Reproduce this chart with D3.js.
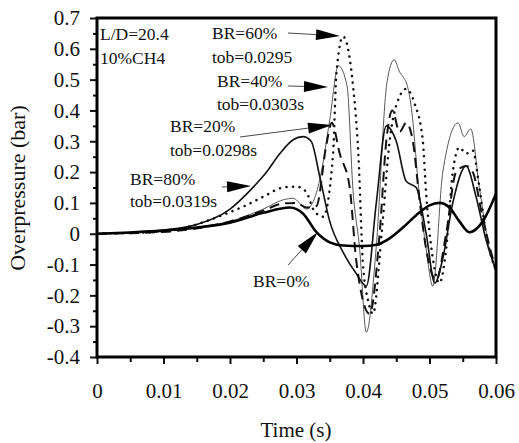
<!DOCTYPE html>
<html>
<head>
<meta charset="utf-8">
<script src="https://cdn.jsdelivr.net/npm/d3@7"></script>
<style>
  body { margin: 0; background: #fff; }
  text { font-family: "Liberation Serif", "Times New Roman", serif; fill: #111; }
</style>
</head>
<body>
<div id="chart"></div>
<script>
// data (time in s, overpressure in bar)
var t0 = [0, 0.005, 0.01, 0.015, 0.02, 0.025, 0.029, 0.031, 0.033, 0.035, 0.037, 0.040, 0.042, 0.044, 0.046, 0.048, 0.050, 0.0515, 0.053, 0.0545, 0.056, 0.058, 0.06];
var p0 = [0, 0.004, 0.01, 0.02, 0.036, 0.068, 0.085, 0.065, 0.005, -0.028, -0.038, -0.04, -0.036, -0.015, 0.02, 0.06, 0.092, 0.1, 0.085, 0.04, 0.005, 0.04, 0.13];

var t20 = [0, 0.01, 0.02, 0.025, 0.028, 0.030, 0.0315, 0.033, 0.0345, 0.0353, 0.0365, 0.038, 0.039, 0.041, 0.0425, 0.0435, 0.0444, 0.0455, 0.0465, 0.0475, 0.0485, 0.0495, 0.051, 0.0525, 0.054, 0.0555, 0.0565, 0.058, 0.06];
var p20 = [0, 0.006, 0.04, 0.075, 0.098, 0.1, 0.085, 0.09, 0.29, 0.36, 0.26, 0.15, -0.09, -0.26, 0.0, 0.3, 0.4, 0.33, 0.36, 0.3, 0.11, -0.05, -0.15, 0.0, 0.2, 0.22, 0.2, 0.05, -0.12];

var t40 = [0, 0.01, 0.02, 0.025, 0.028, 0.0295, 0.0315, 0.0335, 0.035, 0.0363, 0.0376, 0.0385, 0.0395, 0.0405, 0.042, 0.0436, 0.0447, 0.0455, 0.046, 0.0467, 0.0472, 0.0485, 0.0495, 0.0505, 0.052, 0.0543, 0.0552, 0.0562, 0.0575, 0.059, 0.06];
var p40 = [0, 0.008, 0.04, 0.08, 0.11, 0.115, 0.08, 0.175, 0.37, 0.545, 0.48, 0.14, -0.05, -0.32, -0.04, 0.49, 0.565, 0.525, 0.51, 0.477, 0.42, 0.12, -0.05, -0.17, 0.2, 0.36, 0.315, 0.34, 0.15, -0.05, -0.12];

var t60 = [0, 0.01, 0.02, 0.022, 0.025, 0.028, 0.030, 0.0315, 0.0325, 0.034, 0.0355, 0.036, 0.037, 0.0385, 0.0393, 0.04, 0.0408, 0.0415, 0.0428, 0.044, 0.0455, 0.0465, 0.0478, 0.049, 0.0495, 0.0505, 0.0515, 0.0525, 0.0535, 0.0545, 0.0555, 0.0565, 0.0575, 0.0585, 0.06];
var p60 = [0, 0.008, 0.07, 0.088, 0.12, 0.15, 0.153, 0.135, 0.08, 0.055, 0.26, 0.52, 0.64, 0.48, 0.26, -0.1, -0.22, -0.26, 0.0, 0.3, 0.445, 0.47, 0.42, 0.3, 0.13, -0.08, -0.16, -0.05, 0.2, 0.28, 0.26, 0.27, 0.15, 0.0, -0.12];

var t80 = [0, 0.005, 0.01, 0.015, 0.02, 0.023, 0.0255, 0.0275, 0.0295, 0.031, 0.0322, 0.0335, 0.035, 0.037, 0.039, 0.0405, 0.042, 0.0435, 0.045, 0.0465, 0.048, 0.0495, 0.0508, 0.052, 0.0535, 0.0555, 0.057, 0.0585, 0.06];
var p80 = [0, 0.004, 0.012, 0.03, 0.08, 0.14, 0.2, 0.26, 0.305, 0.315, 0.3, 0.185, 0.04, -0.06, -0.13, -0.17, 0.1, 0.35, 0.3, 0.17, 0.15, 0.0, -0.16, -0.08, 0.1, 0.22, 0.12, -0.02, -0.12];

var xTicks = [0, 0.01, 0.02, 0.03, 0.04, 0.05, 0.06];
var yTicks = [-0.4, -0.3, -0.2, -0.1, 0, 0.1, 0.2, 0.3, 0.4, 0.5, 0.6, 0.7];

//svg container dimensions
var svgWidth = 519;
var svgHeight = 443;

var margin = { top: 18, right: 23, bottom: 86, left: 97 };
var chartWidth = svgWidth - margin.left - margin.right;
var chartHeight = svgHeight - margin.top - margin.bottom;

var svg = d3.select("#chart").append("svg")
    .attr("width", svgWidth)
    .attr("height", svgHeight);

var chartGroup = svg.append("g")
    .attr("transform", `translate(${margin.left}, ${margin.top})`);

var xScale = d3.scaleLinear().domain([0, 0.06]).range([0, chartWidth]);
var yScale = d3.scaleLinear().domain([-0.4, 0.7]).range([chartHeight, 0]);

// minor ticks
chartGroup.append("g")
    .attr("transform", `translate(0, ${chartHeight})`)
    .call(d3.axisBottom(xScale).tickValues(d3.range(0.005, 0.06, 0.01)).tickSize(5).tickFormat(""))
    .call(g => g.select(".domain").remove());
chartGroup.append("g")
    .call(d3.axisLeft(yScale).tickValues(d3.range(-0.35, 0.7, 0.1)).tickSize(4).tickFormat(""))
    .call(g => g.select(".domain").remove());

// major axes
var xAxis = d3.axisBottom(xScale).tickValues(xTicks).tickSize(7).tickPadding(19)
    .tickFormat(d => d === 0 ? "0" : d.toFixed(2));
var yAxis = d3.axisLeft(yScale).tickValues(yTicks).tickSize(7).tickPadding(10)
    .tickFormat(d => Math.abs(d) < 1e-9 ? "0" : d.toFixed(1));

chartGroup.append("g")
    .attr("transform", `translate(0, ${chartHeight})`)
    .call(xAxis)
    .call(g => g.select(".domain").remove());
chartGroup.append("g")
    .call(yAxis)
    .call(g => g.select(".domain").remove());

chartGroup.selectAll(".tick line").attr("stroke", "#111").attr("stroke-width", 2);
chartGroup.selectAll(".tick text")
    .style("font-family", "Liberation Serif")
    .style("font-size", "21px")
    .attr("fill", "#111");

// clip the curves to the frame
chartGroup.append("clipPath").attr("id", "plotclip")
    .append("rect").attr("width", chartWidth).attr("height", chartHeight);

var line = d3.line()
    .x(d => xScale(d[0]))
    .y(d => yScale(d[1]))
    .curve(d3.curveMonotoneX);

var series = [
  { t: t40, p: p40, width: 0.9, dash: null, color: "#444" },
  { t: t80, p: p80, width: 1.6, dash: null, color: "#111" },
  { t: t20, p: p20, width: 2, dash: "10,6", color: "#111", cap: "butt" },
  { t: t60, p: p60, width: 2.5, dash: "0.1,6.5", color: "#111", cap: "round" },
  { t: t0, p: p0, width: 2.6, dash: null, color: "#000" }
];

chartGroup.append("g").attr("clip-path", "url(#plotclip)")
    .selectAll("path")
    .data(series)
    .enter()
    .append("path")
    .attr("d", s => line(d3.zip(s.t, s.p)))
    .attr("fill", "none")
    .attr("stroke", s => s.color)
    .attr("stroke-width", s => s.width)
    .attr("stroke-dasharray", s => s.dash)
    .attr("stroke-linecap", s => s.cap || "round")
    .attr("stroke-linejoin", "round");

// frame
chartGroup.append("rect")
    .attr("width", chartWidth)
    .attr("height", chartHeight)
    .attr("fill", "none")
    .attr("stroke", "#000")
    .attr("stroke-width", 3);

// annotations (pixel positions inside the svg)
var notes = [
  ["L/D=20.4", 100, 40], ["10%CH4", 100, 64],
  ["BR=60%", 212, 39], ["tob=0.0295", 212, 63],
  ["BR=40%", 217, 87], ["tob=0.0303s", 217, 110],
  ["BR=20%", 170, 132], ["tob=0.0298s", 170, 156],
  ["BR=80%", 130, 185], ["tob=0.0319s", 130, 207],
  ["BR=0%", 253, 287]
];
svg.selectAll(".note")
    .data(notes)
    .enter()
    .append("text")
    .attr("class", "note")
    .attr("x", d => d[1])
    .attr("y", d => d[2])
    .style("font-size", "17.5px")
    .text(d => d[0]);

// arrows: tail x, tail y, tip x, tip y
var arrows = [
  [288, 33, 340, 36],
  [288, 86, 328, 87],
  [240, 137, 332, 125],
  [222, 187, 251, 186],
  [288, 265, 318, 232]
];
arrows.forEach(a => {
  var ang = Math.atan2(a[3] - a[1], a[2] - a[0]);
  var len = 24, half = 5.5;
  var bx = a[2] - len * Math.cos(ang), by = a[3] - len * Math.sin(ang);
  svg.append("line")
      .attr("x1", a[0]).attr("y1", a[1]).attr("x2", bx).attr("y2", by)
      .attr("stroke", "#333").attr("stroke-width", 0.9);
  svg.append("polygon")
      .attr("points", [
        [a[2], a[3]],
        [bx + half * Math.sin(ang), by - half * Math.cos(ang)],
        [bx - half * Math.sin(ang), by + half * Math.cos(ang)]
      ].map(p => p.join(",")).join(" "))
      .attr("fill", "#000");
});

// axis titles
svg.append("text")
    .attr("x", 296)
    .attr("y", 437)
    .attr("text-anchor", "middle")
    .style("font-size", "21px")
    .text("Time (s)");

svg.append("text")
    .attr("transform", "translate(25, 188) rotate(-90)")
    .attr("text-anchor", "middle")
    .style("font-size", "22px")
    .text("Overpressure (bar)");
</script>
</body>
</html>
